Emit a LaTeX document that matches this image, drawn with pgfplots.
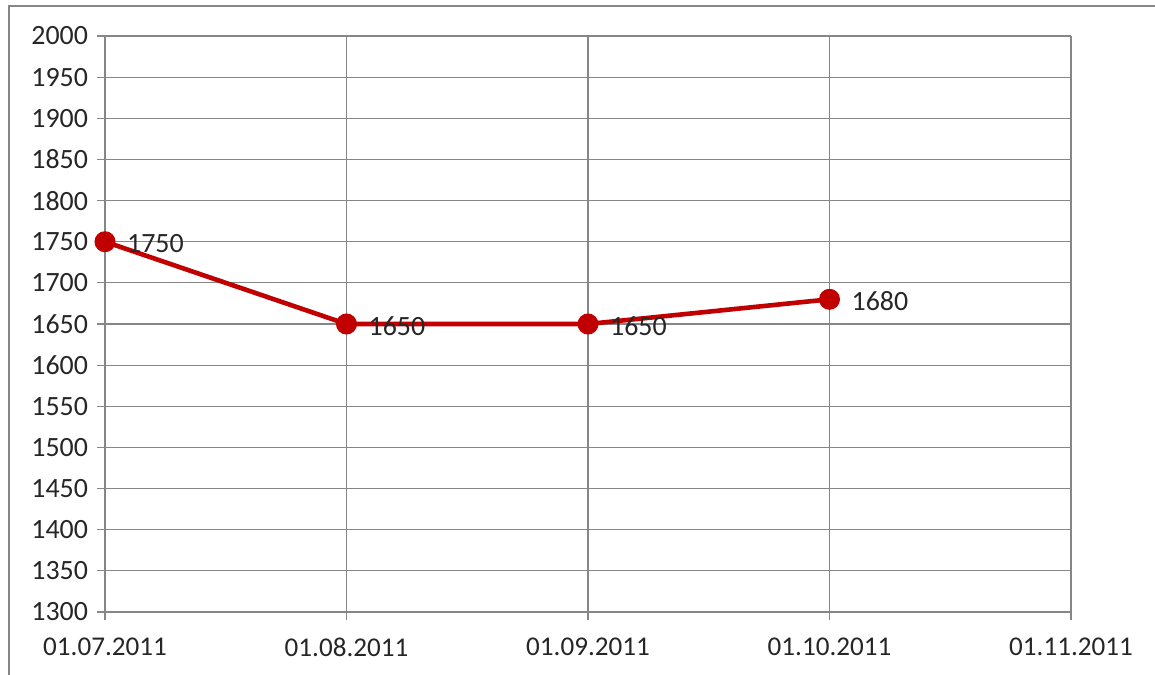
\documentclass[border=0pt]{standalone}
\usepackage{pgfplots}
\pgfplotsset{compat=1.18}
\usepackage{fontspec}
\setmainfont{Carlito}
\definecolor{ln}{RGB}{192,0,0}
\definecolor{gr}{RGB}{134,134,134}
\begin{document}
\begin{tikzpicture}
\begin{axis}[
  at={(0,0)}, anchor=south west,
  scale only axis, width=483bp, height=288bp,
  xmin=0, xmax=4, ymin=1300, ymax=2000,
  xtick={0,1,2,3,4},
  xticklabels={01.07.2011,01.08.2011,01.09.2011,01.10.2011,01.11.2011},
  ytick={1300,1350,...,2000},
  grid=major,
  grid style={gr, line width=0.6bp},
  axis line style={gr, line width=0.6bp},
  major tick style={gr, line width=0.6bp},
  tick align=outside, major tick length=4bp,
  axis x line*=bottom, axis y line*=left,
  x axis line style={-}, y axis line style={-},
  ticklabel style={font=\fontsize{14}{16}\selectfont, text=black!85},
  xticklabel style={font=\fontsize{13.6}{16}\selectfont, yshift=-5.5bp},
  yticklabel style={xshift=-1bp},
  /pgf/number format/assume math mode=true,
  /pgf/number format/1000 sep={},
  clip=false,
  nodes near coords,
  every node near coord/.append style={anchor=west, xshift=7.5bp, yshift=-1bp, font=\fontsize{14}{16}\selectfont, text=black!85},
]
\addplot[color=ln, line width=2.3bp, mark=*, mark size=5bp, mark options={fill=ln, draw=ln, line width=0.5bp}]
  coordinates {(0,1750) (1,1650) (2,1650) (3,1680)};
\end{axis}
\draw[gr, line width=1bp] (-48bp,-40bp) rectangle (530bp,303bp);
\pgfresetboundingbox
\useasboundingbox (-52.5bp,-31.5bp) rectangle (525bp,306bp);
\end{tikzpicture}
\end{document}
